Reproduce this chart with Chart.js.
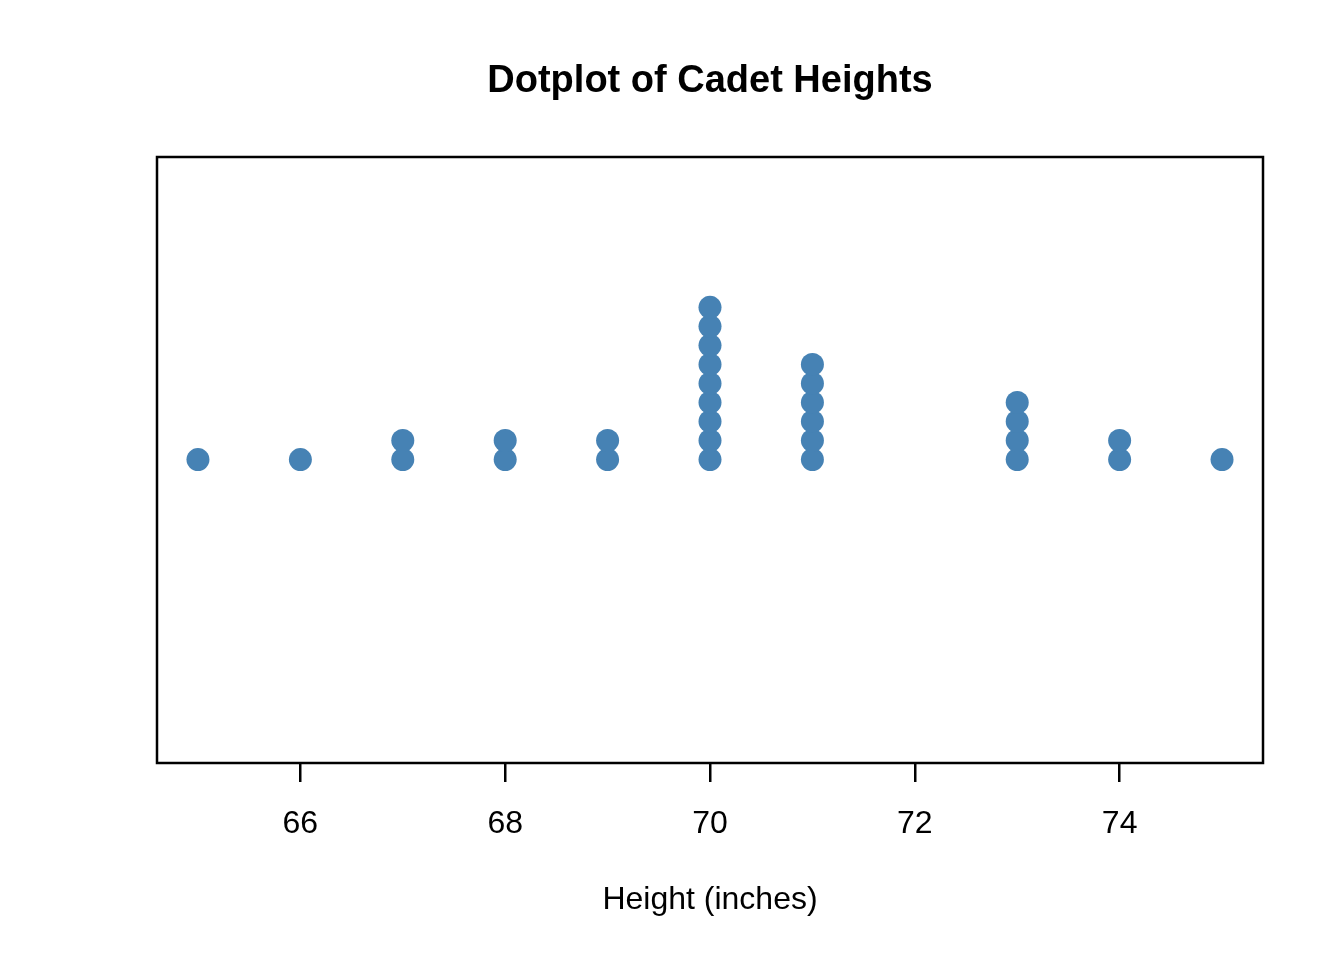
<!DOCTYPE html>
<html>
<head>
<meta charset="utf-8">
<script src="https://cdn.jsdelivr.net/npm/chart.js@4/dist/chart.umd.min.js"></script>
<style>
  html, body { margin: 0; padding: 0; background: #ffffff; }
  #wrap { width: 1344px; height: 960px; }
</style>
</head>
<body>
<div id="wrap"><canvas id="c" width="1344" height="960"></canvas></div>
<script>
const chartTitle = "Dotplot of Cadet Heights";
const xAxisTitle = "Height (inches)";
const heights = [65, 66, 67, 68, 69, 70, 71, 73, 74, 75];
const counts  = [1, 1, 2, 2, 2, 9, 6, 4, 2, 1];
const xTicks  = [66, 68, 70, 72, 74];

// stacked points built from the counts
const points = [];
heights.forEach((h, i) => {
  for (let k = 0; k < counts[i]; k++) points.push({ x: h, y: k });
});

const boxPlugin = {
  id: 'box',
  afterDraw(chart) {
    const { ctx, chartArea: a } = chart;
    ctx.save();
    ctx.strokeStyle = '#000';
    ctx.lineWidth = 2.5;
    ctx.strokeRect(a.left, a.top, a.right - a.left, a.bottom - a.top);
    ctx.restore();
  }
};

new Chart(document.getElementById('c'), {
  type: 'scatter',
  data: {
    datasets: [{
      data: points,
      backgroundColor: '#4682B4',
      borderWidth: 0,
      pointRadius: 11.5,
      pointHoverRadius: 11.5,
      clip: false
    }]
  },
  options: {
    responsive: false,
    animation: false,
    events: [],
    layout: { padding: { left: 157, right: 81, top: 0, bottom: 0 } },
    plugins: {
      legend: { display: false },
      tooltip: { enabled: false },
      title: {
        display: true,
        text: chartTitle,
        fullSize: false,
        color: '#000',
        font: { family: 'Liberation Sans, Arial, sans-serif', size: 38, weight: 'bold', lineHeight: 1.2 },
        padding: { top: 59, bottom: 52.4 }
      }
    },
    scales: {
      x: {
        type: 'linear',
        min: 64.6,
        max: 75.4,
        afterBuildTicks(scale) { scale.ticks = xTicks.map(v => ({ value: v })); },
        afterFit(scale) { scale.height = 197; },
        border: { display: false },
        grid: {
          drawOnChartArea: false,
          drawTicks: true,
          tickLength: 19,
          color: '#000',
          lineWidth: 2.5
        },
        ticks: {
          color: '#000',
          padding: 23,
          maxRotation: 0,
          font: { family: 'Liberation Sans, Arial, sans-serif', size: 32 }
        },
        title: {
          display: true,
          text: xAxisTitle,
          color: '#000',
          font: { family: 'Liberation Sans, Arial, sans-serif', size: 32 },
          padding: { top: 0, bottom: 41 }
        }
      },
      y: {
        display: false,
        min: -15.95,
        max: 15.9
      }
    }
  },
  plugins: [boxPlugin]
});
</script>
</body>
</html>
